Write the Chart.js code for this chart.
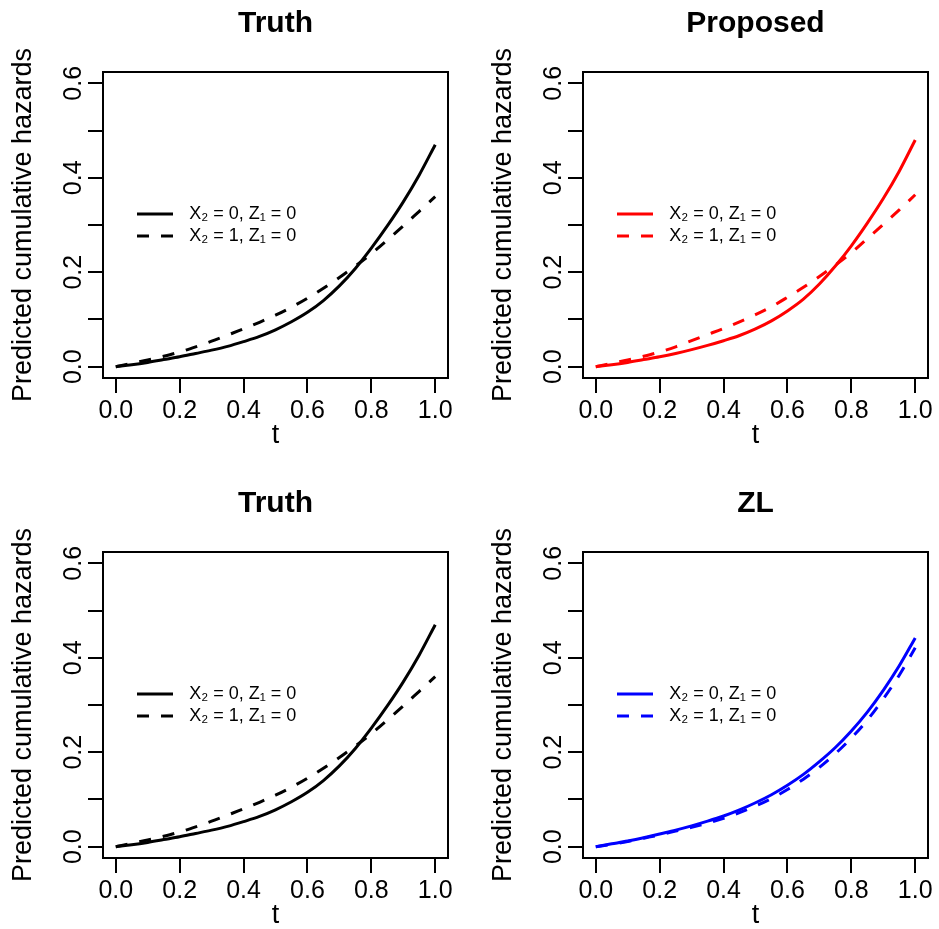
<!DOCTYPE html>
<html>
<head>
<meta charset="utf-8">
<title>Predicted cumulative hazards</title>
<script src="https://cdn.jsdelivr.net/npm/chart.js@4.4.1/dist/chart.umd.min.js"></script>
<style>
  html, body { margin: 0; padding: 0; background: #fff; overflow: hidden; }
  #page { position: relative; width: 939px; height: 929px; overflow: hidden; background: #fff; }
  .panel { position: absolute; }
</style>
</head>
<body>
<div id="page">
  <canvas id="panel0" class="panel" width="480" height="480" style="left:0;top:0"></canvas>
  <canvas id="panel1" class="panel" width="480" height="480" style="left:480px;top:0"></canvas>
  <canvas id="panel2" class="panel" width="480" height="480" style="left:0;top:480px"></canvas>
  <canvas id="panel3" class="panel" width="480" height="480" style="left:480px;top:480px"></canvas>
</div>
<script>
// time grid the curves were read at
const tValues = [0, 0.05, 0.1, 0.15, 0.2, 0.25, 0.3, 0.35, 0.4, 0.45, 0.5,
  0.55, 0.6, 0.65, 0.7, 0.75, 0.8, 0.85, 0.9, 0.95, 1];

// cumulative hazards, X2 = 0 (solid) and X2 = 1 (dashed)
const truthX0 = [0, 0.004, 0.009, 0.015, 0.021, 0.028, 0.035, 0.043, 0.053, 0.064, 0.078,
  0.095, 0.115, 0.140, 0.171, 0.208, 0.251, 0.298, 0.349, 0.406, 0.470];
const truthX1 = [0, 0.007, 0.014, 0.022, 0.031, 0.042, 0.054, 0.067, 0.080, 0.094, 0.109,
  0.126, 0.145, 0.166, 0.189, 0.213, 0.239, 0.268, 0.298, 0.329, 0.360];
const proposedX0 = [0, 0.004, 0.009, 0.015, 0.021, 0.028, 0.036, 0.045, 0.055, 0.066, 0.080,
  0.097, 0.118, 0.143, 0.175, 0.213, 0.256, 0.304, 0.356, 0.414, 0.480];
const proposedX1 = [0, 0.007, 0.014, 0.022, 0.031, 0.042, 0.055, 0.068, 0.081, 0.095, 0.110,
  0.127, 0.147, 0.168, 0.191, 0.215, 0.241, 0.271, 0.301, 0.332, 0.364];
const zlX0 = [0, 0.006, 0.012, 0.019, 0.027, 0.035, 0.044, 0.054, 0.065, 0.078, 0.093,
  0.110, 0.130, 0.153, 0.180, 0.210, 0.245, 0.285, 0.331, 0.383, 0.442];
const zlX1 = [0, 0.005, 0.011, 0.018, 0.025, 0.033, 0.041, 0.050, 0.060, 0.072, 0.086,
  0.102, 0.121, 0.143, 0.168, 0.197, 0.230, 0.268, 0.313, 0.363, 0.421];

const panelTitles = ["Truth", "Proposed", "Truth", "ZL"];
const legendLabels = ["X\u2082 = 0, Z\u2081 = 0", "X\u2082 = 1, Z\u2081 = 0"];

const xTicks = [0, 0.2, 0.4, 0.6, 0.8, 1];
const xTickLabels = ["0.0", "0.2", "0.4", "0.6", "0.8", "1.0"];
const yTicks = [0, 0.1, 0.2, 0.3, 0.4, 0.5, 0.6];
const yTickLabels = ["0.0", "", "0.2", "", "0.4", "", "0.6"];

const panelSeries = [
  [truthX0, truthX1],
  [proposedX0, proposedX1],
  [truthX0, truthX1],
  [zlX0, zlX1]
];
const panelColors = ["#000000", "#ff0000", "#000000", "#0000ff"];

Chart.defaults.font.family = "'Liberation Sans', Arial, Helvetica, sans-serif";
Chart.defaults.color = "#000";

const legendInset = 30;
const legendFontSize = 18;
const legendGap = 4;

// box around the plot region, like R's box()
const framePlugin = {
  id: "frame",
  afterDraw(chart) {
    const { ctx, chartArea: a } = chart;
    ctx.save();
    ctx.strokeStyle = "#000";
    ctx.lineWidth = 2;
    ctx.strokeRect(a.left, a.top, a.right - a.left, a.bottom - a.top);
    ctx.restore();
  }
};

// place the in-plot legend like R's legend("left", bty = "n")
const legendPlace = {
  id: "legendPlace",
  afterLayout(chart) {
    const lg = chart.legend;
    if (!lg) return;
    const a = chart.chartArea;
    const half = legendGap + legendFontSize / 2 + (legendFontSize + legendGap) / 2;
    lg.left = a.left + legendInset;
    lg.top = (a.top + a.bottom) / 2 - half;
    lg.bottom = a.bottom;
  }
};

function toPoints(values) {
  return tValues.map((t, i) => ({ x: t, y: values[i] }));
}

function axisGrid() {
  return { drawOnChartArea: false, drawTicks: true, tickLength: 15, lineWidth: 2, color: "#000" };
}

function legendItems(chart) {
  return Chart.defaults.plugins.legend.labels.generateLabels(chart).map(item => {
    const ds = chart.data.datasets[item.datasetIndex];
    return {
      ...item,
      text: "\u2009\u2009" + item.text,
      strokeStyle: ds.borderColor,
      fillStyle: ds.borderColor,
      lineWidth: ds.borderWidth,
      lineDash: ds.borderDash || [],
      lineCap: "butt"
    };
  });
}

function makePanel(index) {
  const color = panelColors[index];
  const [solid, dashed] = panelSeries[index];
  return new Chart(document.getElementById("panel" + index), {
    type: "line",
    data: {
      datasets: [
        {
          label: legendLabels[0],
          data: toPoints(solid),
          borderColor: color,
          backgroundColor: color,
          borderWidth: 3,
          pointRadius: 0,
          fill: false,
          cubicInterpolationMode: "monotone"
        },
        {
          label: legendLabels[1],
          data: toPoints(dashed),
          borderColor: color,
          backgroundColor: color,
          borderWidth: 3,
          borderDash: [12, 12],
          pointRadius: 0,
          fill: false,
          cubicInterpolationMode: "monotone"
        }
      ]
    },
    options: {
      responsive: false,
      animation: false,
      events: [],
      layout: { padding: { left: 0, top: 0, right: 32, bottom: 0 } },
      plugins: {
        title: {
          display: true,
          text: panelTitles[index],
          fullSize: false,
          color: "#000",
          font: { size: 30, weight: "bold" },
          padding: { top: 6, bottom: 30 }
        },
        legend: {
          position: "chartArea",
          align: "start",
          labels: {
            usePointStyle: true,
            pointStyle: "line",
            pointStyleWidth: 36,
            padding: legendGap,
            color: "#000",
            font: { size: legendFontSize },
            generateLabels: legendItems
          }
        },
        tooltip: { enabled: false }
      },
      scales: {
        x: {
          type: "linear",
          min: -0.04,
          max: 1.04,
          afterFit: s => { s.height = 102; },
          afterBuildTicks: s => { s.ticks = xTicks.map(v => ({ value: v })); },
          grid: axisGrid(),
          border: { display: false },
          ticks: {
            autoSkip: false,
            maxRotation: 0,
            padding: 3,
            color: "#000",
            font: { size: 25 },
            callback: (v, i) => xTickLabels[i]
          },
          title: {
            display: true,
            text: "t",
            color: "#000",
            font: { size: 27 },
            padding: { top: 0, bottom: 28 }
          }
        },
        y: {
          type: "linear",
          min: -0.024,
          max: 0.624,
          afterFit: s => { s.width = 103; },
          afterBuildTicks: s => { s.ticks = yTicks.map(v => ({ value: v })); },
          grid: axisGrid(),
          border: { display: false },
          ticks: {
            autoSkip: false,
            minRotation: 90,
            maxRotation: 90,
            crossAlign: "center",
            padding: -3.5,
            color: "#000",
            font: { size: 25 },
            callback: (v, i) => yTickLabels[i]
          },
          title: {
            display: true,
            text: "Predicted cumulative hazards",
            color: "#000",
            font: { size: 27 },
            padding: { top: 7, bottom: 0 }
          }
        }
      }
    },
    plugins: [framePlugin, legendPlace]
  });
}

panelTitles.forEach((_, i) => makePanel(i));
</script>
</body>
</html>
